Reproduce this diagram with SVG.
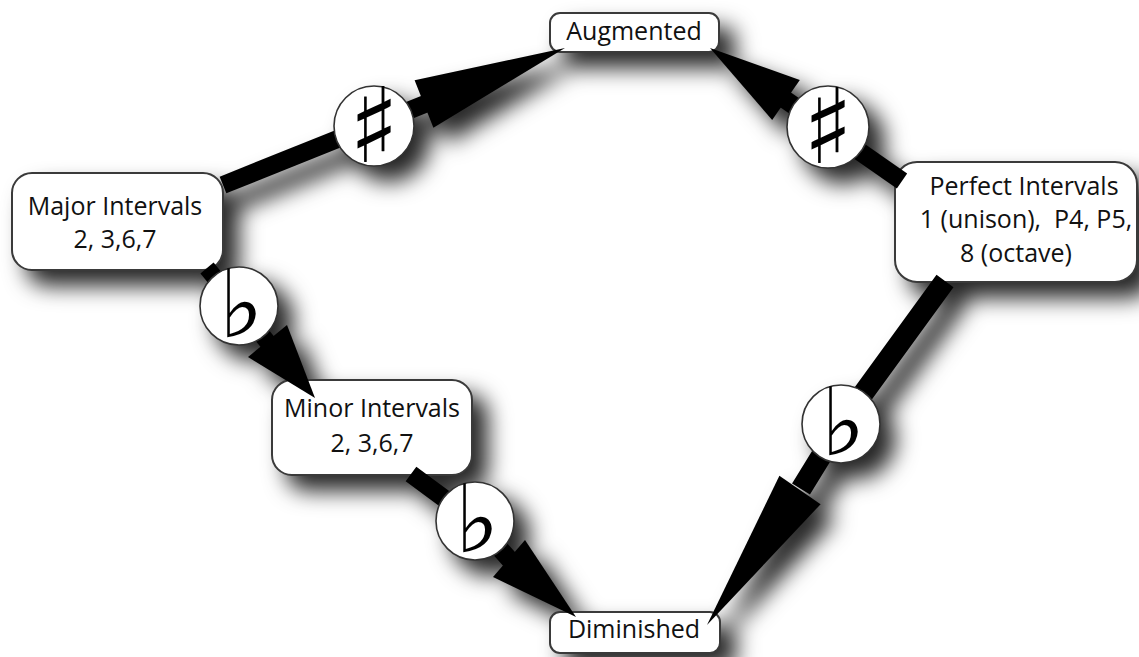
<svg xmlns="http://www.w3.org/2000/svg" xmlns:xlink="http://www.w3.org/1999/xlink" width="1139" height="657" viewBox="0 0 1139 657">
  <style>
    .box { fill: #fff; stroke: #3a3a3a; stroke-width: 2; }
    .lbl { font-family: "Open Sans", "Liberation Sans", sans-serif; font-size: 25px; fill: #111; text-anchor: middle; }
    .shaft { fill: none; stroke: #000; stroke-linecap: butt; stroke-linejoin: round; }
    .head { fill: #000; }
    .badge { fill: #fff; stroke: #333; stroke-width: 1.6; }
    .sharp { font-family: "DejaVu Sans", sans-serif; font-size: 104px; fill: #000; text-anchor: middle; }
    .flat { font-family: "DejaVu Sans", sans-serif; font-size: 94px; fill: #000; text-anchor: middle; }
  </style>
  <defs>
    <!-- soft drop shadow cast down and to the right -->
    <filter id="shade" filterUnits="userSpaceOnUse" x="-50" y="-50" width="1250" height="760">
      <feGaussianBlur in="SourceAlpha" stdDeviation="11"/>
      <feOffset dx="15" dy="15" result="b"/>
      <feFlood flood-color="#000" flood-opacity="0.85"/>
      <feComposite in2="b" operator="in"/>
    </filter>
  </defs>

  <rect width="1139" height="657" fill="#fff"/>

  <!-- shadow layer -->
  <g filter="url(#shade)">
    <use xlink:href="#augmented"/>
    <use xlink:href="#major"/>
    <use xlink:href="#minor"/>
    <use xlink:href="#perfect"/>
    <use xlink:href="#diminished"/>
    <use xlink:href="#connectors"/>
  </g>

  <g id="augmented">
    <rect class="box" x="550" y="13" width="169" height="39" rx="10"/>
    <text class="lbl" x="634" y="40">Augmented</text>
  </g>

  <g id="major">
    <rect class="box" x="12" y="173" width="211" height="97" rx="20"/>
    <text class="lbl" x="115" y="215">Major Intervals</text>
    <text class="lbl" x="115" y="248">2, 3,6,7</text>
  </g>

  <g id="minor">
    <rect class="box" x="272" y="380" width="200" height="95" rx="20"/>
    <text class="lbl" x="372" y="417">Minor Intervals</text>
    <text class="lbl" x="372" y="452">2, 3,6,7</text>
  </g>

  <g id="perfect">
    <rect class="box" x="895" y="162" width="242" height="120" rx="22"/>
    <text class="lbl" x="1024" y="195">Perfect Intervals</text>
    <text class="lbl" x="1026" y="228" xml:space="preserve">1 (unison),  P4, P5,</text>
    <text class="lbl" x="1016" y="262">8 (octave)</text>
  </g>

  <g id="diminished">
    <rect class="box" x="550" y="612" width="170" height="41" rx="10"/>
    <text class="lbl" x="634" y="638">Diminished</text>
  </g>

  <g id="connectors">
    <!-- Major -> Augmented (sharp) -->
    <line class="shaft" x1="223" y1="185" x2="430" y2="102" stroke-width="18"/>
    <polygon class="head" points="414.6,80.3 565,48 433.4,127.7"/>
    <circle class="badge" cx="374" cy="126" r="40"/>
    <text class="sharp" x="374" y="162">♯</text>

    <!-- Perfect -> Augmented (sharp) -->
    <line class="shaft" x1="902" y1="181" x2="780" y2="96" stroke-width="18"/>
    <polygon class="head" points="799.8,79.9 710,48 772.2,120.1"/>
    <circle class="badge" cx="828" cy="127" r="41"/>
    <text class="sharp" x="828" y="163">♯</text>

    <!-- Major -> Minor (flat) -->
    <line class="shaft" x1="207" y1="268" x2="270" y2="345" stroke-width="17"/>
    <polygon class="head" points="287,325 315,398 248,357"/>
    <circle class="badge" cx="239" cy="306" r="39"/>
    <text class="flat" x="241" y="337">♭</text>

    <!-- Minor -> Diminished (flat) -->
    <polyline class="shaft" points="411,474 476,522 510,560" stroke-width="18"/>
    <polygon class="head" points="525,540 576,617 493,577"/>
    <circle class="badge" cx="475" cy="521" r="39"/>
    <text class="flat" x="477" y="552">♭</text>

    <!-- Perfect -> Diminished (flat) -->
    <polyline class="shaft" points="945,281 841,424 801,489" stroke-width="21"/>
    <polygon class="head" points="779.4,475.8 707,625 820.6,504.2"/>
    <circle class="badge" cx="841" cy="424" r="39"/>
    <text class="flat" x="843" y="455">♭</text>
  </g>
</svg>
